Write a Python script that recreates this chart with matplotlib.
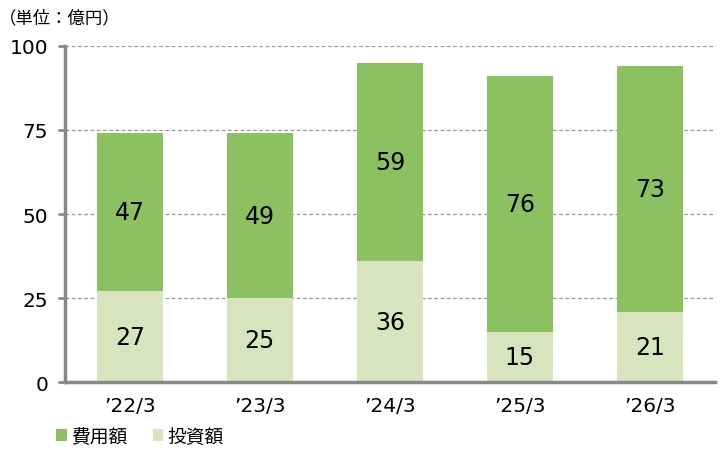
import matplotlib.pyplot as plt
import numpy as np

plt.rcParams['font.family'] = ['DejaVu Sans', 'Noto Sans CJK JP']

years = ["’22/3", "’23/3", "’24/3", "’25/3", "’26/3"]
invest = [27, 25, 36, 15, 21]
expense = [47, 49, 59, 76, 73]

c_exp = '#8BC160'
c_inv = '#D7E4BD'

fig = plt.figure(figsize=(7.2, 4.6), dpi=100)
ax = fig.add_axes([0.090, 0.167, 0.903, 0.731])

x = np.arange(len(years))
w = 0.51
ax.bar(x, invest, w, color=c_inv, zorder=2, label='投資額')
ax.bar(x, expense, w, bottom=invest, color=c_exp, zorder=2, label='費用額')

for i in range(len(x)):
    ax.text(x[i], invest[i] / 2, str(invest[i]), ha='center', va='center', fontsize=17, zorder=3)
    ax.text(x[i], invest[i] + expense[i] / 2, str(expense[i]), ha='center', va='center', fontsize=17, zorder=3)

ax.set_xlim(-0.5, 4.5)
ax.set_ylim(0, 100)
ax.set_yticks([0, 25, 50, 75, 100])
ax.set_xticks(x)
ax.set_xticklabels(years)
ax.yaxis.grid(True, linestyle=(0, (3, 2)), color='#999999', linewidth=0.9, zorder=0)
for s in ['top', 'right']:
    ax.spines[s].set_visible(False)
for s in ['left', 'bottom']:
    ax.spines[s].set_color('#888888')
    ax.spines[s].set_linewidth(2.5)
ax.tick_params(axis='y', length=5, width=2, color='#888888', labelsize=14.5, pad=7)
ax.tick_params(axis='x', length=0, labelsize=14.5, pad=10)

fig.text(-0.002, 0.96, '（単位：億円）', fontsize=12.5, va='center', ha='left',
         family=['Noto Sans CJK JP', 'DejaVu Sans'])

h, l = ax.get_legend_handles_labels()
fig.legend(h[::-1], l[::-1], loc='lower left', bbox_to_anchor=(0.055, -0.01), ncol=2, frameon=False,
           prop={'family': ['Noto Sans CJK JP'], 'size': 13.5},
           handlelength=0.55, handleheight=0.55, handletextpad=0.2, columnspacing=1.4)

fig.savefig('out.png', dpi=100)
